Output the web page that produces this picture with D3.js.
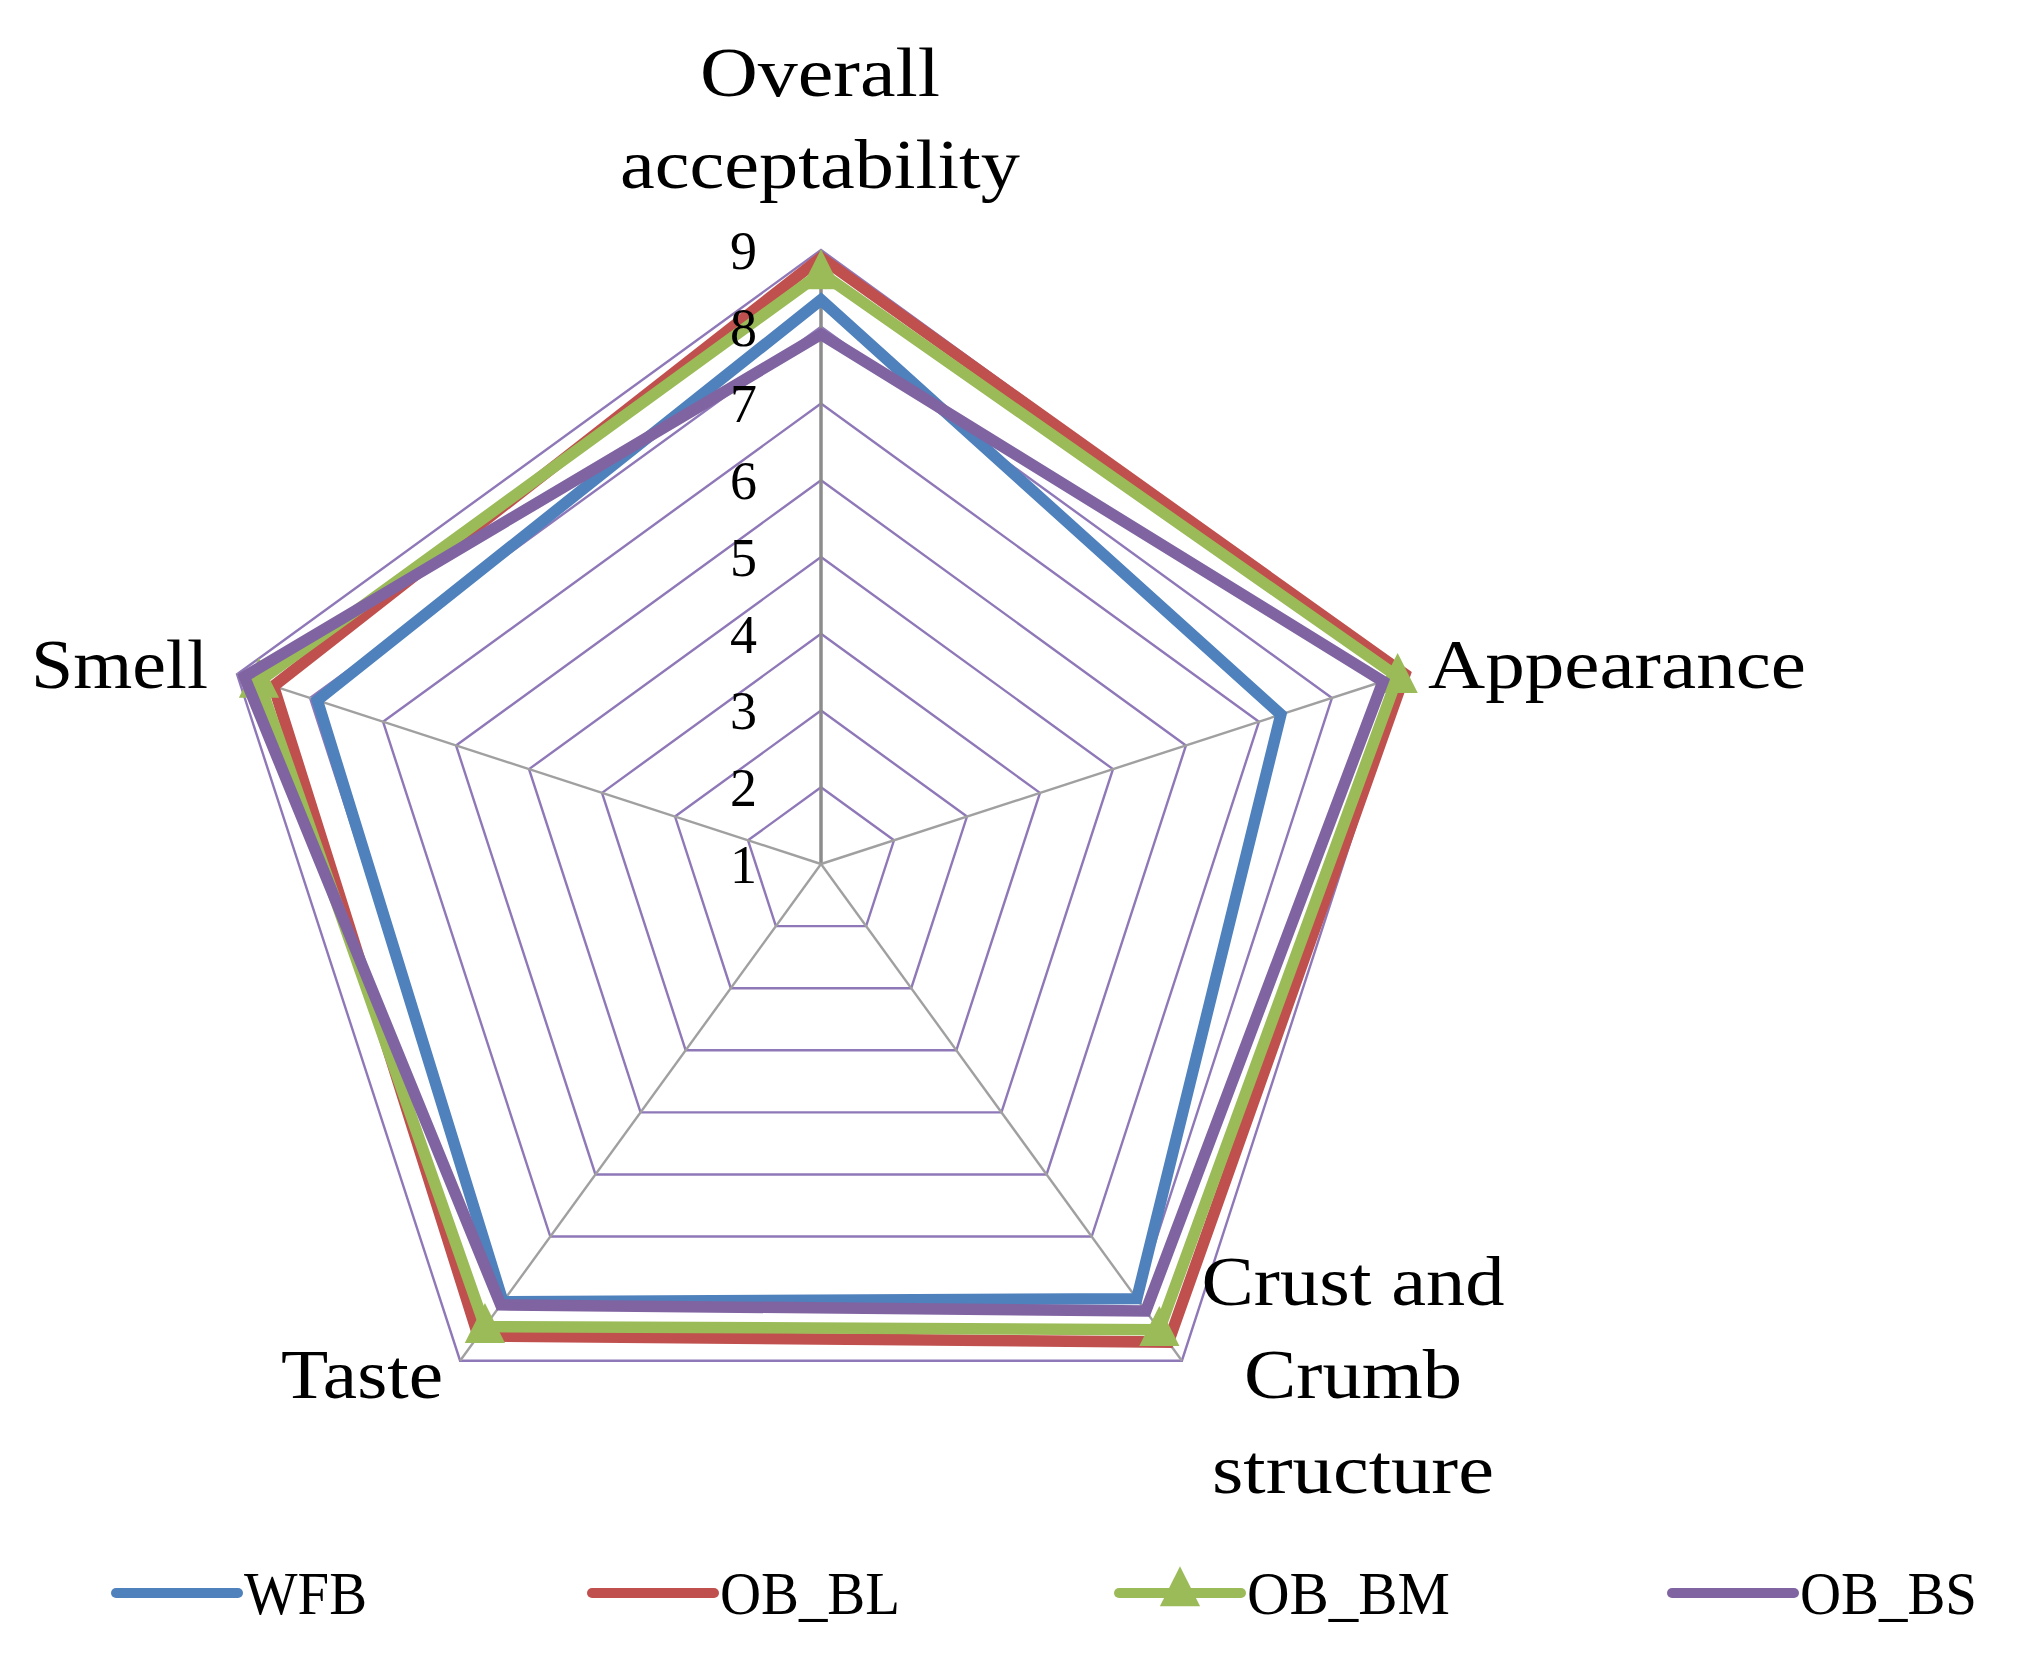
<!DOCTYPE html>
<html>
<head>
<meta charset="utf-8">
<script src="https://cdn.jsdelivr.net/npm/d3@7"></script>
<style>
  html, body { margin: 0; padding: 0; background: #ffffff; }
  svg { display: block; }
  text { font-family: "Liberation Serif", "Times New Roman", serif; fill: #000; }
</style>
</head>
<body>
<script>
// ---------- data ----------
const categories = ["Overall acceptability", "Appearance", "Crust and Crumb structure", "Taste", "Smell"];
const seriesNames = ["WFB", "OB_BL", "OB_BM", "OB_BS"];
const WFB   = [8.35, 7.3, 8.0, 8.05, 7.9];
const OB_BL = [8.9, 9.0, 8.7, 8.6, 8.5];
const OB_BM = [8.7, 8.9, 8.5, 8.45, 8.7];
const OB_BS = [7.9, 8.7, 8.2, 8.1, 8.9];
const tickValues = [1, 2, 3, 4, 5, 6, 7, 8, 9];

// ---------- layout ----------
const W = 2017, H = 1659;
const cx = 821, cy = 864, R = 614;
const colors = { WFB: "#4F81BD", OB_BL: "#C0504D", OB_BM: "#9BBB59", OB_BS: "#8064A2" };
const seriesData = [
  { name: "WFB", values: WFB },
  { name: "OB_BL", values: OB_BL },
  { name: "OB_BM", values: OB_BM },
  { name: "OB_BS", values: OB_BS }
];

const svg = d3.select("body").append("svg").attr("width", W).attr("height", H);
const g = svg.append("g").attr("transform", `translate(${cx},${cy})`);

const r = d3.scaleLinear().domain([1, 9]).range([0, R]);
const angle = d3.scalePoint().domain(d3.range(categories.length + 1)).range([0, 2 * Math.PI]);
const pt = (i, v) => {
  const a = angle(i);
  return [r(v) * Math.sin(a), -r(v) * Math.cos(a)];
};
const radial = d3.lineRadial().angle((d, i) => angle(i)).radius(d => r(d)).curve(d3.curveLinearClosed);

// grid rings
g.append("g").selectAll("path").data(tickValues.filter(v => v > 1)).join("path")
  .attr("d", v => radial(categories.map(() => v)))
  .attr("fill", "none")
  .attr("stroke", "#8F78B8")
  .attr("stroke-width", 2.4);

// spokes
g.append("g").selectAll("line").data(categories).join("line")
  .attr("x1", 0).attr("y1", 0)
  .attr("x2", (d, i) => pt(i, 9)[0])
  .attr("y2", (d, i) => pt(i, 9)[1])
  .attr("stroke", (d, i) => i === 0 ? "#8c8c8c" : "#a0a0a0")
  .attr("stroke-width", (d, i) => i === 0 ? 3.5 : 2.4);

// series
const tri = d3.symbol().type(d3.symbolTriangle).size(700);
seriesData.forEach(s => {
  const sg = g.append("g");
  sg.append("path")
    .attr("d", radial(s.values))
    .attr("fill", "none")
    .attr("stroke", colors[s.name])
    .attr("stroke-width", 11.5)
    .attr("stroke-linejoin", "miter");
  if (s.name === "OB_BM") {
    sg.selectAll("path.m").data(s.values).join("path")
      .attr("class", "m")
      .attr("d", tri)
      .attr("transform", (v, i) => `translate(${pt(i, v)[0]},${pt(i, v)[1] + 3}) scale(1,1.15)`)
      .attr("fill", colors[s.name]);
  }
});

// value axis labels
g.append("g").selectAll("text").data(tickValues).join("text")
  .attr("x", -64)
  .attr("y", v => -r(v))
  .attr("dy", "0.35em")
  .attr("text-anchor", "end")
  .attr("font-size", 54)
  .text(v => v);

// category labels
const catLines = [
  ["Overall", "acceptability"],
  ["Appearance"],
  ["Crust and", "Crumb", "structure"],
  ["Taste"],
  ["Smell"]
];
const catLayout = [
  { x: 820, ys: [96, 188], anchor: "middle", lens: [240, 400] },
  { x: 1428, ys: [688], anchor: "start", lens: [378] },
  { x: 1353, ys: [1305, 1398, 1493], anchor: "middle", lens: [303, 218, 282] },
  { x: 443, ys: [1398], anchor: "end", lens: [162] },
  { x: 208, ys: [688], anchor: "end", lens: [177] }
];
const lab = svg.append("g");
catLines.forEach((lines, i) => {
  lines.forEach((t, j) => {
    lab.append("text")
      .attr("x", catLayout[i].x)
      .attr("y", catLayout[i].ys[j])
      .attr("text-anchor", catLayout[i].anchor)
      .attr("font-size", 70)
      .attr("textLength", catLayout[i].lens[j])
      .attr("lengthAdjust", "spacingAndGlyphs")
      .text(t);
  });
});

// legend
const legendX = [116, 592, 1119, 1672];
const legendTextLen = [123, 180, 203, 177];
const ly = 1593;
const leg = svg.append("g");
seriesNames.forEach((name, i) => {
  const x0 = legendX[i];
  leg.append("line")
    .attr("x1", x0).attr("x2", x0 + 122)
    .attr("y1", ly).attr("y2", ly)
    .attr("stroke", colors[name])
    .attr("stroke-width", 10)
    .attr("stroke-linecap", "round");
  if (name === "OB_BM") {
    leg.append("path")
      .attr("d", tri)
      .attr("transform", `translate(${x0 + 61},${ly}) scale(1,1.15)`)
      .attr("fill", colors[name]);
  }
  leg.append("text")
    .attr("x", x0 + 128)
    .attr("y", ly + 21)
    .attr("font-size", 62)
    .attr("textLength", legendTextLen[i])
    .attr("lengthAdjust", "spacingAndGlyphs")
    .text(name);
});
</script>
</body>
</html>
